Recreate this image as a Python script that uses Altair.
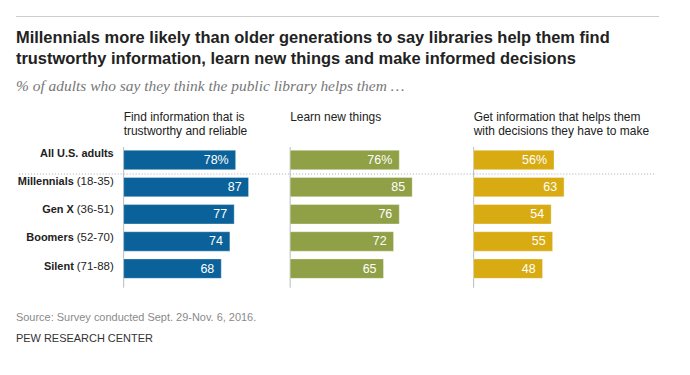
import altair as alt
import pandas as pd

# ---- data ----
groups = ["All U.S. adults", "Millennials", "Gen X", "Boomers", "Silent"]
ages = ["", "(18-35)", "(36-51)", "(52-70)", "(71-88)"]
trustworthy = [78, 87, 77, 74, 68]
learn_new = [76, 85, 76, 72, 65]
decisions = [56, 63, 54, 55, 48]

headers = [
    ["Find information that is", "trustworthy and reliable"],
    ["Learn new things"],
    ["Get information that helps them", "with decisions they have to make"],
]
title_lines = [
    "Millennials more likely than older generations to say libraries help them find",
    "trustworthy information, learn new things and make informed decisions",
]
subtitle = "% of adults who say they think the public library helps them \u2026"
source = "Source: Survey conducted Sept. 29-Nov. 6, 2016."
credit = "PEW RESEARCH CENTER"

df = pd.DataFrame({
    "group": groups,
    "age": ages,
    "trust": trustworthy,
    "learn": learn_new,
    "decide": decisions,
})
one = pd.DataFrame({"k": [0]})

# ---- style ----
FONT = "Liberation Sans"
TFONT = "Liberation Sans"
colors = ["#0b629a", "#8fa046", "#d8ab13"]
W0 = 108
H = 141
widths = [167, 184, 181]
PX = 1.44

yscale = alt.Scale(domain=groups, paddingInner=0.284, paddingOuter=0.229, align=0.25)
Y = alt.Y("group:N", scale=yscale, axis=None)

def dotted(w, x0=0):
    return alt.Chart(one).mark_rule(color="#aaaaaa", strokeDash=[1, 2], strokeWidth=1).encode(
        x=alt.value(x0), x2=alt.value(w), y=alt.value(27)
    )

# ---- label panel ----
base = alt.Chart(df)
names = base.transform_filter("datum.age != ''").mark_text(
    align="right", baseline="middle", fontWeight="bold", fontSize=11, font=FONT, color="#222222"
).encode(y=Y, x=alt.value(58), text="group:N")
agel = base.transform_filter("datum.age != ''").mark_text(
    align="left", baseline="middle", fontSize=11.5, font=FONT, color="#222222"
).encode(y=Y, x=alt.value(61), text="age:N")
allrow = base.transform_filter("datum.age == ''").mark_text(
    align="right", baseline="middle", fontWeight="bold", fontSize=11, font=FONT, color="#222222"
).encode(y=Y, x=alt.value(98), text="group:N")

toprule = alt.Chart(one).mark_rule(color="#cccccc", strokeWidth=1).encode(
    x=alt.value(0), x2=alt.value(645), y=alt.value(-131)
)
t1 = alt.Chart(one).mark_text(
    align="left", baseline="alphabetic", fontSize=16.5, fontWeight="bold", font=TFONT, color="#222222"
).encode(x=alt.value(0), y=alt.value(-104), text=alt.value(title_lines[0]))
t2 = alt.Chart(one).mark_text(
    align="left", baseline="alphabetic", fontSize=16.5, fontWeight="bold", font=TFONT, color="#222222"
).encode(x=alt.value(0), y=alt.value(-83), text=alt.value(title_lines[1]))
st = alt.Chart(one).mark_text(
    align="left", baseline="alphabetic", fontSize=15.5, fontStyle="italic", font="Liberation Serif", color="#777777"
).encode(x=alt.value(0), y=alt.value(-56), text=alt.value(subtitle))
src = alt.Chart(one).mark_text(
    align="left", baseline="alphabetic", fontSize=11, font=FONT, color="#8a8a8a"
).encode(x=alt.value(0), y=alt.value(174), text=alt.value(source))
cred = alt.Chart(one).mark_text(
    align="left", baseline="alphabetic", fontSize=11, font=FONT, color="#333333"
).encode(x=alt.value(0), y=alt.value(195), text=alt.value(credit))

label_panel = alt.layer(
    toprule, t1, t2, st, dotted(W0, 3), names, agel, allrow, src, cred
).properties(width=W0, height=H)

# ---- bar panels ----
def panel(field, color, w, header):
    xs = alt.Scale(domain=[0, w / PX], nice=False, zero=True)
    X = alt.X(f"{field}:Q", scale=xs, axis=None)
    axisline = alt.Chart(one).mark_rule(color="#bbbbbb", strokeWidth=1).encode(
        x=alt.value(0), y=alt.value(0), y2=alt.value(H)
    )
    bars = alt.Chart(df).mark_bar(color=color, stroke="#ffffff", strokeOpacity=0.35, strokeWidth=1).encode(
        x=X, y=Y
    )
    labels = alt.Chart(df).transform_calculate(
        lab=f"datum.group == '{groups[0]}' ? datum.{field} + '%' : '' + datum.{field}"
    ).mark_text(
        align="right", baseline="middle", dx=-7, color="white", fontSize=12.5, font=FONT
    ).encode(x=X, y=Y, text="lab:N")
    head = alt.Chart(one).mark_text(
        align="left", baseline="alphabetic", fontSize=12, font=FONT, color="#222222", lineHeight=13.5
    ).encode(x=alt.value(0), y=alt.value(-26), text=alt.value(header))
    return alt.layer(dotted(w), axisline, bars, labels, head).properties(width=w, height=H)

p1 = panel("trust", colors[0], widths[0], headers[0])
p2 = panel("learn", colors[1], widths[1], headers[1])
p3 = panel("decide", colors[2], widths[2], headers[2])

chart = alt.hconcat(label_panel, p1, p2, p3, spacing=0, bounds="flush").properties(
    padding={"left": 15, "top": 15, "right": 30, "bottom": 20},
    autosize=alt.AutoSizeParams(type="pad"),
).configure(font=FONT, background="white").configure_view(stroke="transparent")

chart.save("out.html", embed_options={"renderer": "svg", "actions": False})
